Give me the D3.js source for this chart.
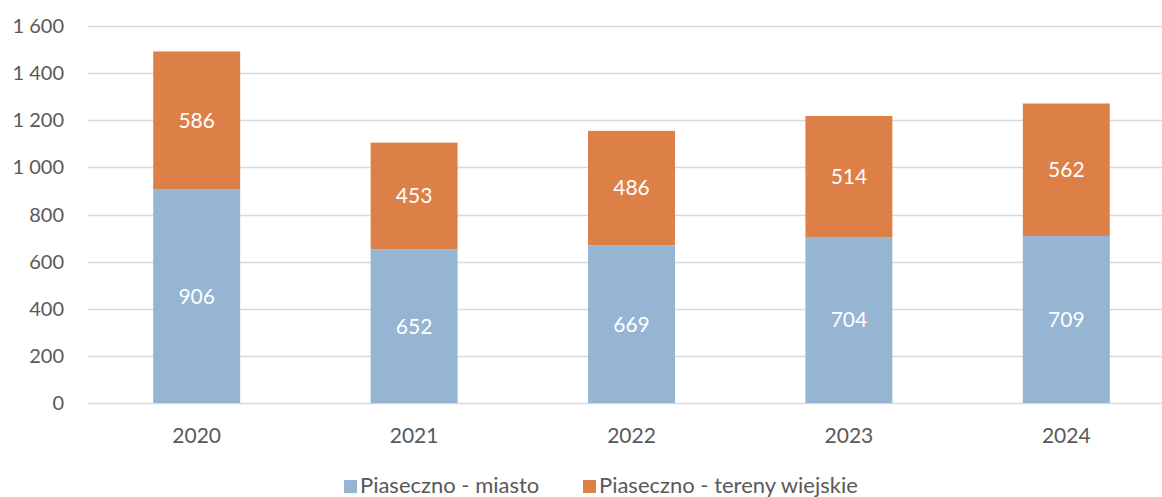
<!DOCTYPE html>
<html>
<head>
<meta charset="utf-8">
<script src="https://cdn.jsdelivr.net/npm/d3@7"></script>
<style>
  body { margin: 0; background: #fff; }
  text { font-family: Lato, "Open Sans", sans-serif; }
</style>
</head>
<body>
<script>
var years = ["2020", "2021", "2022", "2023", "2024"];
var miasto = [906, 652, 669, 704, 709];
var wiejskie = [586, 453, 486, 514, 562];
var yTicks = [0, 200, 400, 600, 800, 1000, 1200, 1400, 1600];
var seriesNames = ["Piaseczno - miasto", "Piaseczno - tereny wiejskie"];

var colors = ["#95b5d3", "#dd8047"];
var textColor = "#595959";

var width = 1162, height = 497;

var svg = d3.select("body").append("svg")
  .attr("width", width)
  .attr("height", height);

var x = d3.scaleBand()
  .domain(years)
  .range([88, 1175])
  .paddingInner(0.6)
  .paddingOuter(0.3);

var y = d3.scaleLinear()
  .domain([0, 1600])
  .range([403, 26]);

// gridlines
svg.append("g").selectAll("line")
  .data(yTicks)
  .enter()
  .append("line")
  .attr("x1", 88)
  .attr("x2", width)
  .attr("y1", function(d){ return Math.round(y(d)) + 0.5; })
  .attr("y2", function(d){ return Math.round(y(d)) + 0.5; })
  .attr("stroke", "#d9d9d9")
  .attr("stroke-width", 1.5);

// y labels
svg.append("g").selectAll("text")
  .data(yTicks)
  .enter()
  .append("text")
  .attr("x", 64)
  .attr("y", function(d){ return y(d); })
  .attr("dy", "0.35em")
  .attr("text-anchor", "end")
  .attr("fill", textColor)
  .style("font-size", "20px")
  .text(function(d){ return d3.format(",")(d).replace(",", " "); });

var rows = years.map(function(yr, i){
  return { year: yr, miasto: miasto[i], wiejskie: wiejskie[i] };
});
var stack = d3.stack().keys(["miasto", "wiejskie"])(rows);

var layers = svg.selectAll("g.layer")
  .data(stack)
  .enter()
  .append("g")
  .attr("class", "layer")
  .attr("fill", function(d, i){ return colors[i]; });

layers.selectAll("rect")
  .data(function(d){ return d; })
  .enter()
  .append("rect")
  .attr("x", function(d){ return x(d.data.year); })
  .attr("width", x.bandwidth())
  .attr("y", function(d){ return y(d[1]); })
  .attr("height", function(d){ return y(d[0]) - y(d[1]); });

layers.selectAll("text")
  .data(function(d){ return d; })
  .enter()
  .append("text")
  .attr("x", function(d){ return x(d.data.year) + x.bandwidth() / 2; })
  .attr("y", function(d){ return (y(d[0]) + y(d[1])) / 2; })
  .attr("dy", "0.35em")
  .attr("text-anchor", "middle")
  .attr("fill", "#fff")
  .style("font-size", "21px")
  .text(function(d){ return d[1] - d[0]; });

// x labels
svg.append("g").selectAll("text")
  .data(years)
  .enter()
  .append("text")
  .attr("x", function(d){ return x(d) + x.bandwidth() / 2; })
  .attr("y", 436)
  .attr("dy", "0.35em")
  .attr("text-anchor", "middle")
  .attr("fill", textColor)
  .style("font-size", "21px")
  .text(function(d){ return d; });

// legend
var legendX = [344, 583];
var legend = svg.append("g").selectAll("g")
  .data(seriesNames)
  .enter()
  .append("g")
  .attr("transform", function(d, i){ return "translate(" + legendX[i] + ",485)"; });

legend.append("rect")
  .attr("x", 0)
  .attr("y", -5)
  .attr("width", 13)
  .attr("height", 13)
  .attr("fill", function(d, i){ return colors[i]; });

legend.append("text")
  .attr("x", 16)
  .attr("y", 0)
  .attr("dy", "0.35em")
  .attr("fill", textColor)
  .style("font-size", "22px")
  .text(function(d){ return d; });
</script>
</body>
</html>
